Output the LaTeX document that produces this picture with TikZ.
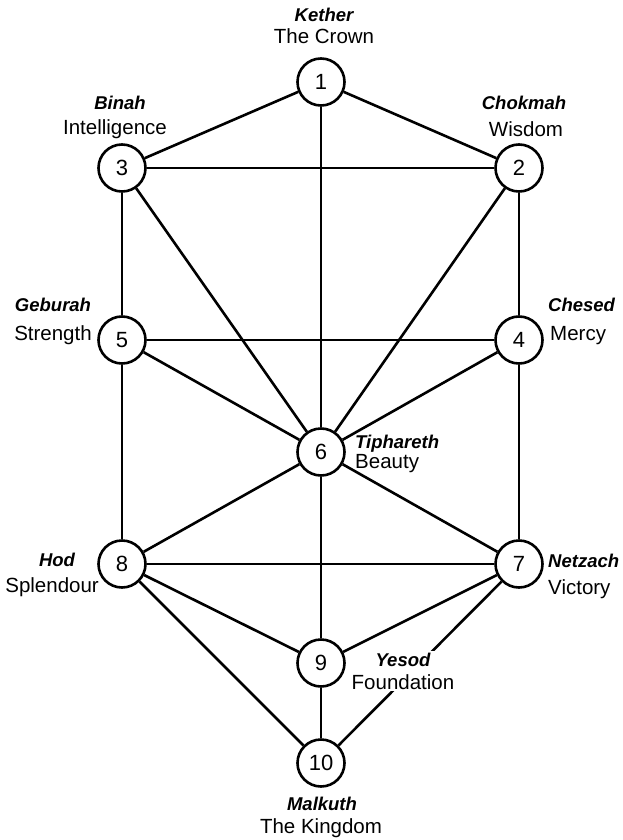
\documentclass[tikz,border=0pt]{standalone}
\usepackage{fontspec}
\setmainfont{Liberation Sans}
\begin{document}
\begin{tikzpicture}[x=1pt,y=-1pt,
  seph/.style={circle, draw, line width=2.6pt, minimum size=47pt, inner sep=0pt, fill=white, font=\fontsize{22}{24}\selectfont},
  conn/.style={line width=2.6pt},
  nm/.style={font=\fontsize{18.5}{22}\selectfont\bfseries\itshape, inner sep=0pt},
  mn/.style={font=\fontsize{20.5}{23}\selectfont, inner sep=0pt}]
\useasboundingbox (0,0) rectangle (623,840);
% sephiroth
\node[seph] (n1) at (321,82) {1};
\node[seph] (n3) at (122,168) {3};
\node[seph] (n2) at (519,168) {2};
\node[seph] (n5) at (122,340) {5};
\node[seph] (n4) at (519,340) {4};
\node[seph] (n6) at (321,452) {6};
\node[seph] (n8) at (122,564) {8};
\node[seph] (n7) at (519,564) {7};
\node[seph] (n9) at (321,663) {9};
\node[seph] (n10) at (321,763) {10};
% paths
\draw[conn] (n1) -- (n3);
\draw[conn] (n1) -- (n2);
\draw[conn] (n1) -- (n6);
\draw[conn] (n3) -- (n2);
\draw[conn] (n3) -- (n5);
\draw[conn] (n3) -- (n6);
\draw[conn] (n2) -- (n6);
\draw[conn] (n2) -- (n4);
\draw[conn] (n5) -- (n4);
\draw[conn] (n5) -- (n6);
\draw[conn] (n4) -- (n6);
\draw[conn] (n5) -- (n8);
\draw[conn] (n4) -- (n7);
\draw[conn] (n6) -- (n8);
\draw[conn] (n6) -- (n7);
\draw[conn] (n6) -- (n9);
\draw[conn] (n8) -- (n7);
\draw[conn] (n8) -- (n9);
\draw[conn] (n7) -- (n9);
\draw[conn] (n8) -- (n10);
\draw[conn] (n7) -- (n10);
\draw[conn] (n9) -- (n10);
% labels
\node[nm, anchor=base] (kether) at (324,22) {Kether};
\node[mn, anchor=base] (crown) at (324,44) {The Crown};
\node[nm, anchor=base] (binah) at (120,110) {Binah};
\node[mn, anchor=base] (intel) at (115,135) {Intelligence};
\node[nm, anchor=base] (chokmah) at (524,110) {Chokmah};
\node[mn, anchor=base] (wisdom) at (526,136) {Wisdom};
\node[nm, anchor=base] (geburah) at (53,311) {Geburah};
\node[mn, anchor=base] (strength) at (53,340) {Strength};
\node[nm, anchor=base west] (chesed) at (548,311) {Chesed};
\node[mn, anchor=base west] (mercy) at (550,340) {Mercy};
\node[nm, anchor=base west] (tiph) at (355,448) {Tiphareth};
\node[mn, anchor=base west] (beauty) at (355,468) {Beauty};
\node[nm, anchor=base] (hod) at (57,566) {Hod};
\node[mn, anchor=base east] (splendour) at (99,592) {Splendour};
\node[nm, anchor=base west] (netzach) at (548,567) {Netzach};
\node[mn, anchor=base west] (victory) at (548,594) {Victory};
\node[mn, align=center, fill=white, inner sep=2pt] (yesod) at (403,671) {{\fontsize{18.5}{23}\selectfont\bfseries\itshape Yesod}\\Foundation};
\node[nm, anchor=base] (malkuth) at (322,810) {Malkuth};
\node[mn, anchor=base] (kingdom) at (321,833) {The Kingdom};
\end{tikzpicture}
\end{document}
